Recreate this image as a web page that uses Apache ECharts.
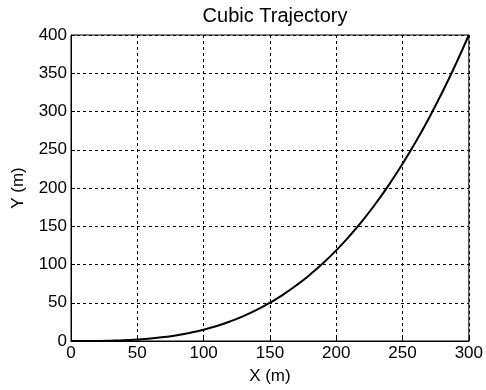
<!DOCTYPE html>
<html>
<head>
<meta charset="utf-8">
<script src="https://cdn.jsdelivr.net/npm/echarts@6/dist/echarts.min.js"></script>
<style>
  html, body { margin: 0; padding: 0; background: #fff; }
  #chart { width: 486px; height: 390px; }
</style>
</head>
<body>
<div id="chart"></div>
<script>
const xValues = [0, 10, 20, 30, 40, 50, 60, 70, 80, 90, 100, 110, 120, 130, 140, 150,
  160, 170, 180, 190, 200, 210, 220, 230, 240, 250, 260, 270, 280, 290, 300];
const yValues = [0, 0.01, 0.1, 0.4, 0.9, 1.9, 3.2, 5.1, 7.6, 10.8, 14.8, 19.7, 25.6, 32.5, 40.6, 50,
  60.7, 72.8, 86.4, 101.6, 118.5, 137.2, 157.7, 180.2, 204.8, 231.5, 260.4, 291.6, 325.2, 361.3, 400];

const points = xValues.map((x, i) => [x, yValues[i]]);

const myChart = echarts.init(document.getElementById('chart'));
const font = 'Liberation Sans, Arial, sans-serif';

const option = {
  animation: false,
  title: {
    text: 'Cubic Trajectory',
    left: 270,
    top: 1,
    textAlign: 'center',
    textStyle: { fontFamily: font, fontSize: 20, fontWeight: 'normal', color: '#000' }
  },
  grid: {
    left: 71,
    right: 17,
    top: 35,
    bottom: 47,
    show: true,
    borderColor: '#000',
    borderWidth: 1
  },
  xAxis: {
    type: 'value',
    min: 0,
    max: 300,
    interval: 50,
    name: 'X (m)',
    nameLocation: 'middle',
    nameGap: 27,
    nameTextStyle: { fontFamily: font, fontSize: 17, color: '#000' },
    axisLine: { lineStyle: { color: '#000' } },
    axisTick: { inside: true, length: 4, lineStyle: { color: '#000' } },
    axisLabel: { fontFamily: font, fontSize: 17, color: '#000', margin: 4 },
    splitLine: { lineStyle: { color: '#000', type: [3, 3], width: 1 } }
  },
  yAxis: {
    type: 'value',
    min: 0,
    max: 400,
    interval: 50,
    name: 'Y (m)',
    nameLocation: 'middle',
    nameGap: 44,
    nameTextStyle: { fontFamily: font, fontSize: 17, color: '#000' },
    axisLine: { lineStyle: { color: '#000' } },
    axisTick: { inside: true, length: 4, lineStyle: { color: '#000' } },
    axisLabel: { fontFamily: font, fontSize: 17, color: '#000', margin: 4 },
    splitLine: { lineStyle: { color: '#000', type: [3, 3], width: 1 } }
  },
  series: [
    {
      name: 'trajectory',
      type: 'line',
      data: points,
      smooth: true,
      showSymbol: false,
      lineStyle: { color: '#000', width: 2 },
      itemStyle: { color: '#000' }
    }
  ]
};
myChart.setOption(option);
</script>
</body>
</html>
